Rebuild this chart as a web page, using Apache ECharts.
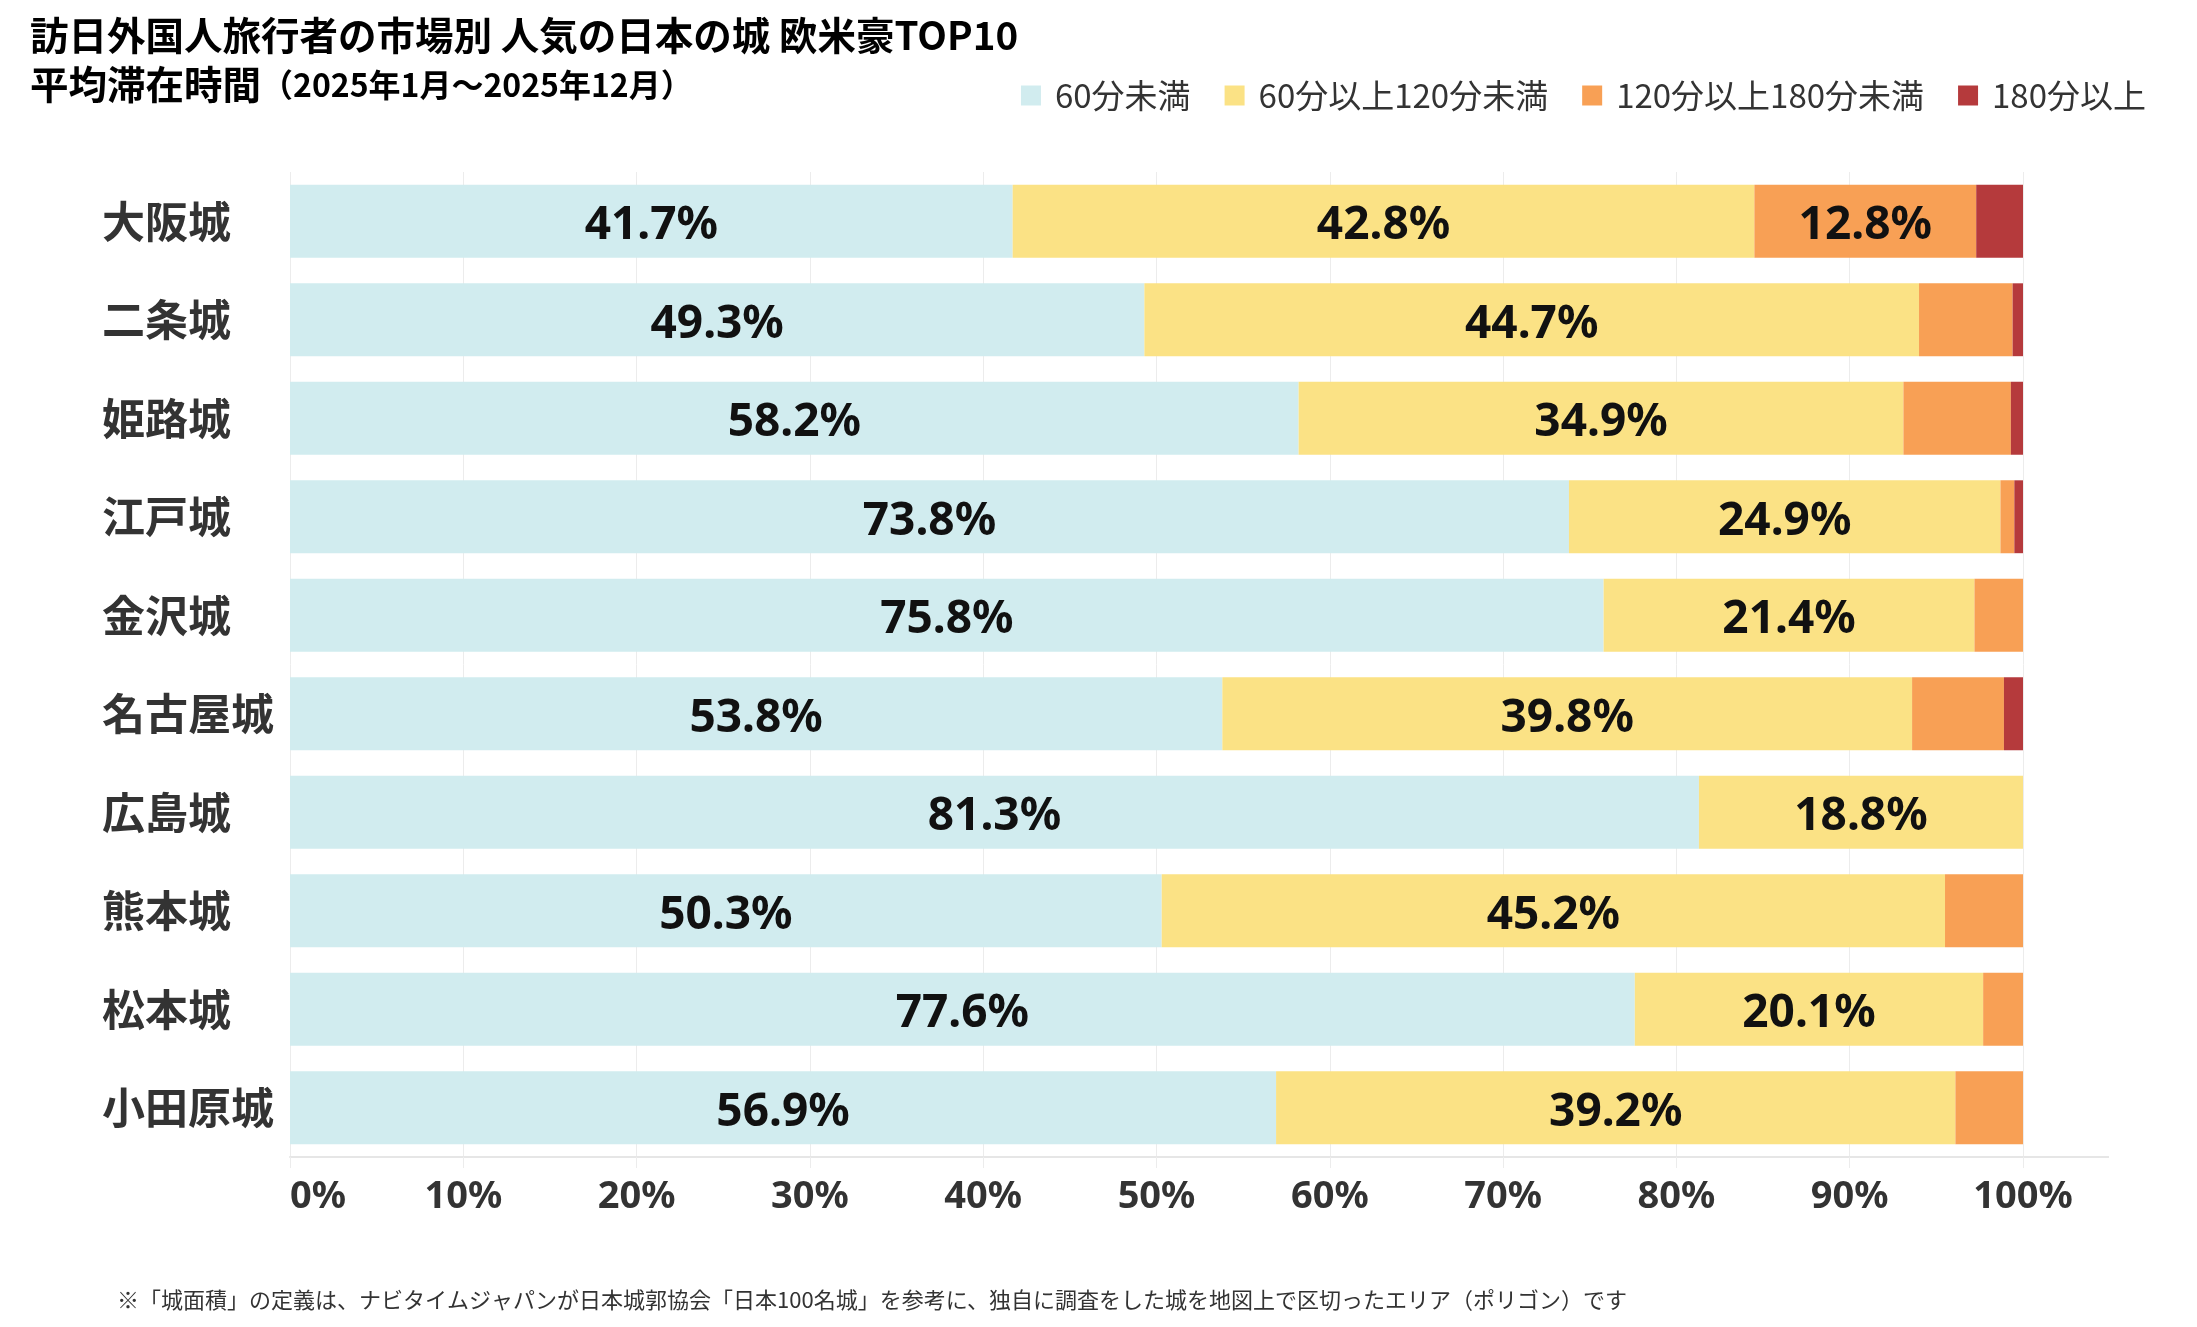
<!DOCTYPE html>
<html>
<head>
<meta charset="utf-8">
<script src="https://cdn.jsdelivr.net/npm/echarts@6/dist/echarts.min.js"></script>
<style>
html,body{margin:0;padding:0;background:#fff;}
#chart{width:2197px;height:1327px;}
</style>
</head>
<body>
<div id="chart"></div>
<script>
const categories = ['大阪城','二条城','姫路城','江戸城','金沢城','名古屋城','広島城','熊本城','松本城','小田原城'];
const seriesNames = ['60分未満','60分以上120分未満','120分以上180分未満','180分以上'];
const under60 = [41.7,49.3,58.2,73.8,75.8,53.8,81.3,50.3,77.6,56.9];
const from60to120 = [42.8,44.7,34.9,24.9,21.4,39.8,18.8,45.2,20.1,39.2];
const from120to180 = [12.8,5.4,6.2,0.8,2.8,5.3,0,4.5,2.3,3.9];
const over180 = [2.7,0.6,0.7,0.5,0,1.1,0,0,0,0];
const xTicks = [0,10,20,30,40,50,60,70,80,90,100];
const colors = ['#d1ecef','#fbe285','#f8a055','#b53a3c'];

const CJK = '"Noto Sans CJK JP", "Noto Sans", sans-serif';
const LAT = '"Noto Sans", "Noto Sans CJK JP", sans-serif';

const chart = echarts.init(document.getElementById('chart'), null, {renderer:'canvas'});

const gridLeft = 290, gridRight = 174, gridTop = 172, gridBottom = 170;

function mkSeries(name, data, color){
  return {
    name: name, type: 'bar', stack: 'total', data: data,
    barCategoryGap: '26%',
    itemStyle: {color: color},
    emphasis: {disabled: true},
    label: {
      show: true, position: 'inside', offset: [0, 5],
      fontFamily: LAT, fontWeight: 'bold', fontSize: 46, color: '#111',
      formatter: p => (p.value >= 10 ? p.value.toFixed(1) + '%' : '')
    }
  };
}

chart.setOption({
  backgroundColor: '#fff',
  animation: false,
  title: [{
    left: 25, top: 6,
    text: '{a|訪日外国人旅行者の市場別 人気の日本の城 欧米豪TOP10}\n{a|平均滞在時間}{b|（2025年1月～2025年12月）}',
    textStyle: {
      rich: {
        a: {fontFamily: CJK, fontSize: 38.5, fontWeight: 'bold', color: '#000', lineHeight: 49},
        b: {fontFamily: CJK, fontSize: 32, fontWeight: 'bold', color: '#000', lineHeight: 49}
      }
    }
  },{
    left: 112, top: 1284,
    text: '※「城面積」の定義は、ナビタイムジャパンが日本城郭協会「日本100名城」を参考に、独自に調査をした城を地図上で区切ったエリア（ポリゴン）です',
    textStyle: {fontFamily: CJK, fontSize: 22, fontWeight: 'normal', color: '#333'}
  }],
  legend: {
    right: 46, top: 74,
    itemWidth: 20, itemHeight: 20, itemGap: 34,
    icon: 'rect',
    data: seriesNames,
    textStyle: {fontFamily: CJK, fontSize: 33, color: '#333', padding: [0,0,0,9]}
  },
  grid: {left: gridLeft, right: gridRight, top: gridTop, bottom: gridBottom, containLabel: false},
  xAxis: {
    type: 'value', min: xTicks[0], max: xTicks[xTicks.length-1], interval: xTicks[1]-xTicks[0],
    axisLine: {show: true, lineStyle: {color: '#e6e6e6', width: 2}},
    axisTick: {show: true, length: 11, lineStyle: {color: '#ececec'}},
    splitLine: {show: true, lineStyle: {color: '#ececec', width: 1}},
    axisLabel: {
      formatter: '{value}%', fontFamily: LAT, fontWeight: 'bold', fontSize: 38, color: '#333',
      margin: 21, alignMinLabel: 'left'
    }
  },
  yAxis: {
    type: 'category', data: categories, inverse: true,
    axisLine: {show: false}, axisTick: {show: false}, splitLine: {show: false},
    axisLabel: {fontFamily: CJK, fontWeight: 'bold', fontSize: 43, color: '#333', align: 'left', margin: 188}
  },
  series: [
    mkSeries(seriesNames[0], under60, colors[0]),
    mkSeries(seriesNames[1], from60to120, colors[1]),
    mkSeries(seriesNames[2], from120to180, colors[2]),
    mkSeries(seriesNames[3], over180, colors[3])
  ],
  graphic: [{
    type: 'line', silent: true, z: -1,
    shape: {x1: gridLeft, y1: 1327 - gridBottom, x2: 2109, y2: 1327 - gridBottom},
    style: {stroke: '#e6e6e6', lineWidth: 2}
  }]
});
</script>
</body>
</html>
